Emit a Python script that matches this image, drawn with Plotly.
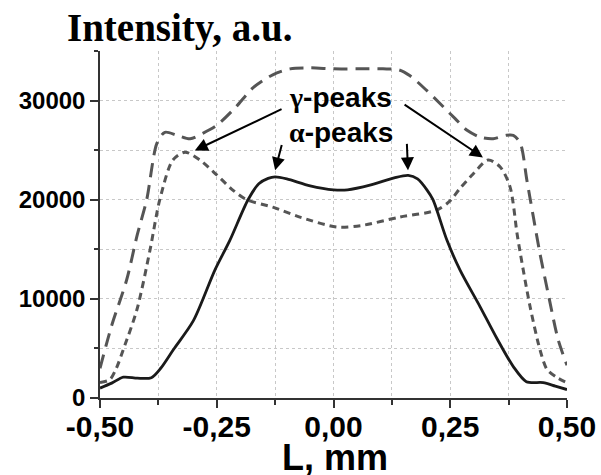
import plotly.graph_objects as go

# ---- data ----
alpha_x = [-0.50, -0.475, -0.45, -0.42, -0.39, -0.37, -0.343, -0.30, -0.254, -0.222, -0.183, -0.16, -0.14,
           -0.125, -0.10, -0.05, 0.0, 0.03, 0.08, 0.13, 0.16, 0.18, 0.20, 0.213, 0.243, 0.271, 0.314, 0.35,
           0.385, 0.413, 0.449, 0.475, 0.50]
alpha_y = [1000, 1500, 2100, 2000, 2050, 3000, 4870, 7800, 12900, 15900, 20000, 21600, 22150,
           22300, 22100, 21400, 21000, 21000, 21500, 22200, 22450, 22100, 21000, 20000, 15900, 12900, 9200, 6000,
           3170, 1650, 1550, 1200, 850]

gamma1_x = [-0.50, -0.475, -0.443, -0.42, -0.40, -0.378, -0.361, -0.335, -0.307, -0.28, -0.25, -0.21, -0.172,
            -0.13, -0.093, -0.05, 0.0, 0.05, 0.106, 0.14, 0.164, 0.20, 0.228, 0.26, 0.286, 0.315, 0.342, 0.37,
            0.385, 0.40, 0.414, 0.428, 0.442, 0.462, 0.481, 0.50]
gamma1_y = [3000, 7300, 11900, 16500, 20000, 25700, 26800, 26500, 26150, 26700, 27500, 29300, 31300,
            32600, 33200, 33300, 33200, 33200, 33200, 33100, 32500, 31000, 29700, 28200, 27000, 26300, 26150, 26500,
            26500, 25700, 22000, 18250, 14600, 10000, 5900, 3300]

gamma2_x = [-0.50, -0.479, -0.465, -0.45, -0.421, -0.393, -0.372, -0.344, -0.318, -0.286, -0.25, -0.215, -0.186,
            -0.13, -0.072, 0.007, 0.06, 0.142, 0.221, 0.25, 0.271, 0.299, 0.331, 0.357, 0.378, 0.393, 0.40,
            0.421, 0.442, 0.457, 0.479, 0.50]
gamma2_y = [1550, 1850, 3000, 4900, 8900, 14900, 20000, 24000, 24800, 24000, 22500, 20950, 20000,
            19250, 18250, 17250, 17400, 18250, 18950, 19900, 21150, 22600, 24000, 23300, 21300, 16600, 14600,
            9200, 4900, 2900, 2050, 1550]

x_tickvals = [-0.5, -0.25, 0.0, 0.25, 0.5]
x_ticktext = ["-0,50", "-0,25", "0,00", "0,25", "0,50"]
y_tickvals = [0, 10000, 20000, 30000]
y_ticktext = ["0", "10000", "20000", "30000"]

# arrows: (head_x, head_y, tail_x, tail_y)
gamma_arrows = [(-0.297, 24970, -0.108, 29200), (0.320, 24270, 0.149, 29700)]
alpha_arrows = [(-0.125, 22960, -0.110, 25680), (0.1595, 22960, 0.157, 25780)]
gamma_label = (0.014, 30300)
alpha_label = (0.016, 26780)

fig = go.Figure()
fig.add_trace(go.Scatter(x=gamma1_x, y=gamma1_y, mode="lines",
                         line=dict(color="#555555", width=3, dash="14px,8px", shape="spline", smoothing=0.8)))
fig.add_trace(go.Scatter(x=gamma2_x, y=gamma2_y, mode="lines",
                         line=dict(color="#555555", width=3, dash="7px,5px", shape="spline", smoothing=0.8)))
fig.add_trace(go.Scatter(x=alpha_x, y=alpha_y, mode="lines",
                         line=dict(color="#1a1a1a", width=2.8, shape="spline", smoothing=0.8)))

annotations = []
for hx, hy, tx, ty in gamma_arrows + alpha_arrows:
    annotations.append(dict(x=hx, y=hy, ax=tx, ay=ty, xref="x", yref="y", axref="x", ayref="y",
                            text="", showarrow=True, arrowhead=2, arrowsize=1.3, arrowwidth=2,
                            arrowcolor="black", standoff=0, startstandoff=0))
greek = '<span style="font-family:Liberation Serif">{}</span>'
annotations.append(dict(x=gamma_label[0], y=gamma_label[1], xref="x", yref="y", showarrow=False,
                        text="<b>" + greek.format("γ") + "-peaks</b>",
                        font=dict(family="Liberation Sans", size=28, color="black")))
annotations.append(dict(x=alpha_label[0], y=alpha_label[1], xref="x", yref="y", showarrow=False,
                        text="<b>" + greek.format("α") + "-peaks</b>",
                        font=dict(family="Liberation Sans", size=28, color="black")))
annotations.append(dict(x=-0.075, y=1.066, xref="paper", yref="paper", xanchor="left", yanchor="middle",
                        showarrow=False, text="<b>Intensity, a.u.</b>",
                        font=dict(family="Liberation Serif", size=39, color="black")))
annotations.append(dict(x=0.503, y=-0.172, xref="paper", yref="paper", xanchor="center", yanchor="middle",
                        showarrow=False, text="<b>L, mm</b>",
                        font=dict(family="Liberation Sans", size=36, color="black")))

grid = dict(showgrid=True, gridcolor="#c8c8c8", griddash="dot", gridwidth=1)
fig.update_layout(
    width=601, height=475,
    margin=dict(l=100, r=34, t=51, b=77, autoexpand=False),
    paper_bgcolor="white", plot_bgcolor="white",
    showlegend=False,
    annotations=annotations,
    xaxis=dict(range=[-0.5, 0.5], tickvals=x_tickvals, ticktext=x_ticktext, automargin=False,
               ticks="outside", ticklen=8, tickwidth=1.5, tickcolor="#333333", ticklabelstandoff=-7,
               showline=True, linecolor="#333333", linewidth=1.5, zeroline=False,
               tickfont=dict(family="Liberation Sans", size=30, color="black", weight="bold"),
               minor=dict(dtick=0.125, ticks="outside", ticklen=5, tickwidth=1.5, tickcolor="#333333",
                          showgrid=True, gridcolor="#c8c8c8", griddash="dot", gridwidth=1),
               **grid),
    yaxis=dict(range=[0, 35000], tickvals=y_tickvals, ticktext=y_ticktext, automargin=False,
               ticks="outside", ticklen=8, tickwidth=1.5, tickcolor="#333333",
               showline=True, linecolor="#333333", linewidth=1.5, zeroline=False,
               tickfont=dict(family="Liberation Sans", size=24, color="black", weight="bold"),
               minor=dict(dtick=5000, ticks="outside", ticklen=4, tickwidth=1.5, tickcolor="#333333",
                          showgrid=True, gridcolor="#c8c8c8", griddash="dot", gridwidth=1),
               **grid),
)
fig.write_html("out.html", config={"displayModeBar": False},
               post_script="document.body.style.margin='0';document.body.style.overflow='hidden';")
